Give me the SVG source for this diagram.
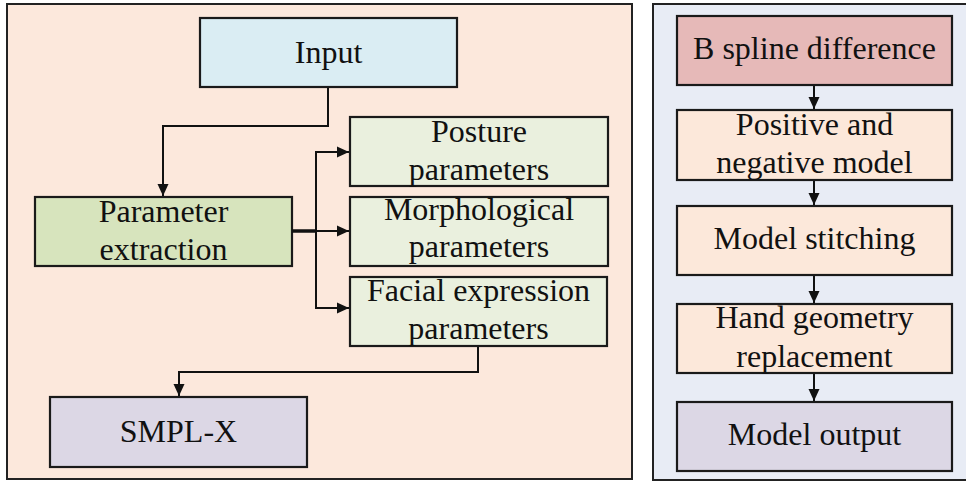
<svg xmlns="http://www.w3.org/2000/svg" width="966" height="482" viewBox="0 0 966 482">
<defs>
<marker id="ah" markerUnits="userSpaceOnUse" markerWidth="13" markerHeight="12" refX="12" refY="6" orient="auto">
<path d="M0,0.5 L12,6 L0,11.5 z" fill="#111"/>
</marker>
<style>
.panel{stroke:#222;stroke-width:2}
.box{stroke:#1a1a1a;stroke-width:2.2}
.t{font-size:32px;fill:#111;text-anchor:middle}
.c{fill:none;stroke:#111;stroke-width:2}
</style>
</defs>
<rect class="panel" x="7" y="4" width="625" height="475" fill="#FCE8DC"/>
<rect class="panel" x="653" y="4" width="316" height="476" fill="#E8ECF5"/>

<g font-family="Liberation Serif, Tinos, DejaVu Serif, serif">
<g id="input"><rect class="box" x="200" y="18" width="257" height="69" fill="#DAEDF3"/><text class="t" x="328.5" y="63">Input</text></g>
<g id="param"><rect class="box" x="35" y="197" width="257" height="69" fill="#D7E4BD"/><text class="t" x="163.5" y="222">Parameter</text><text class="t" x="163.5" y="260">extraction</text></g>
<g id="posture"><rect class="box" x="350" y="117" width="258" height="69" fill="#EAF0DE"/><text class="t" x="479" y="142">Posture</text><text class="t" x="479" y="180">parameters</text></g>
<g id="morph"><rect class="box" x="350" y="197" width="258" height="69" fill="#EAF0DE"/><text class="t" x="479" y="220">Morphological</text><text class="t" x="479" y="257">parameters</text></g>
<g id="facial"><rect class="box" x="350" y="277" width="257" height="69" fill="#EAF0DE"/><text class="t" x="478.5" y="301">Facial expression</text><text class="t" x="478.5" y="339">parameters</text></g>
<g id="smplx"><rect class="box" x="50" y="397" width="257" height="70" fill="#DCD7E5"/><text class="t" x="178.5" y="442">SMPL-X</text></g>

<g id="bspline"><rect class="box" x="677" y="16" width="275" height="69" fill="#E6B9B8"/><text class="t" x="814.5" y="59">B spline difference</text></g>
<g id="posneg"><rect class="box" x="677" y="110" width="275" height="70" fill="#FCE8DA"/><text class="t" x="814.5" y="135">Positive and</text><text class="t" x="814.5" y="173">negative model</text></g>
<g id="stitch"><rect class="box" x="677" y="206" width="275" height="69" fill="#FCE8DA"/><text class="t" x="814.5" y="249">Model stitching</text></g>
<g id="hand"><rect class="box" x="677" y="304" width="275" height="69" fill="#FCE8DA"/><text class="t" x="814.5" y="328">Hand geometry</text><text class="t" x="814.5" y="367">replacement</text></g>
<g id="output"><rect class="box" x="677" y="402" width="275" height="69" fill="#DCD7E5"/><text class="t" x="814.5" y="445">Model output</text></g>
</g>

<g id="connectors">
<path class="c" d="M328,88 V126 H163 V196" marker-end="url(#ah)"/>
<path d="M292,231 H316" stroke="#111" stroke-width="3.5" fill="none"/>
<path class="c" d="M316,152 V308"/>
<path class="c" d="M315,152 H349" marker-end="url(#ah)"/>
<path class="c" d="M316,231 H349" marker-end="url(#ah)"/>
<path class="c" d="M315,308 H349" marker-end="url(#ah)"/>
<path class="c" d="M478,347 V372 H179 V396" marker-end="url(#ah)"/>
<path class="c" d="M814,86 V109" marker-end="url(#ah)"/>
<path class="c" d="M814,181 V205" marker-end="url(#ah)"/>
<path class="c" d="M814,276 V303" marker-end="url(#ah)"/>
<path class="c" d="M814,374 V401" marker-end="url(#ah)"/>
</g>
</svg>
